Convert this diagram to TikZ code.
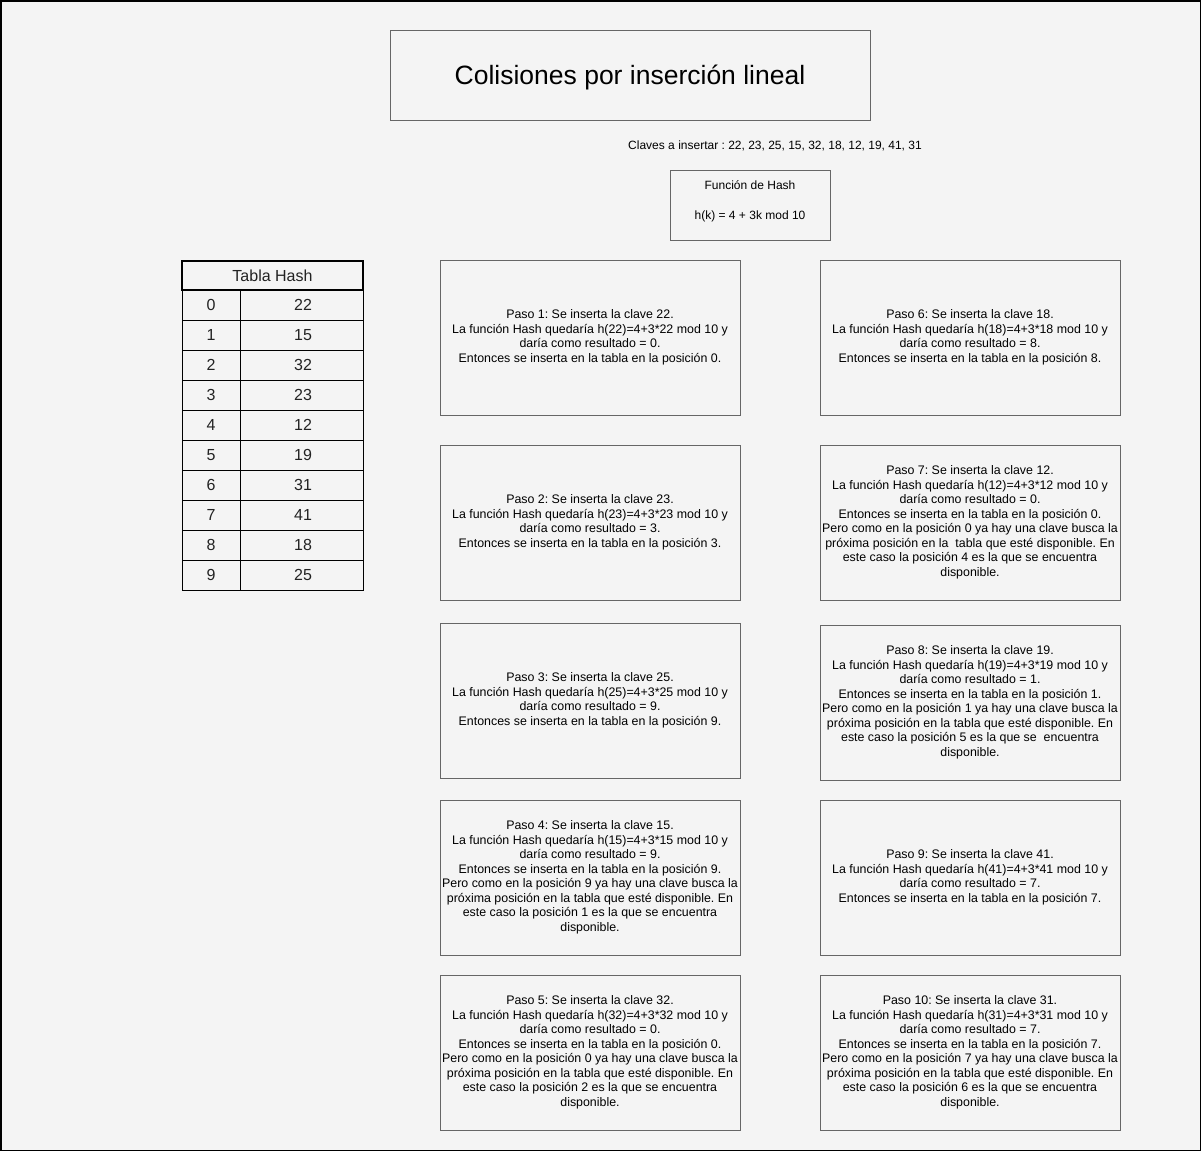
\documentclass[tikz,border=0pt]{standalone}
\usepackage{fontspec}
\setmainfont{Liberation Sans}
\definecolor{bg}{HTML}{F4F4F4}
\definecolor{boxline}{HTML}{666666}
\definecolor{tabtext}{HTML}{222222}
\frenchspacing
\begin{document}
\begin{tikzpicture}[x=1pt,y=-1pt,
  box/.style={draw=boxline,line width=0.9pt,inner sep=0pt},
  stepbox/.style={box,minimum width=300pt,minimum height=155pt,align=center,font=\fontsize{12.4}{14.5}\selectfont},
  cell/.style={draw=black,line width=0.9pt,inner sep=0pt,text=tabtext,font=\fontsize{16}{19}\selectfont}]
\useasboundingbox (0,0) rectangle (1201,1151);
\draw[fill=bg,draw=black,line width=1.5pt] (0.75,0.75) rectangle (1200.25,1150.25);
% title
\node[box,minimum width=480pt,minimum height=90pt] (title) at (630,75) {};
\node[inner sep=0pt,font=\fontsize{26.5}{30}\selectfont] (titletext) at (630,78) {\strut Colisiones por inserción lineal};
\node[inner sep=0pt,font=\fontsize{12}{14.4}\selectfont] (claves) at (775,146) {Claves a insertar : 22, 23, 25, 15, 32, 18, 12, 19, 41, 31};
\node[box,minimum width=160pt,minimum height=70pt] (hash) at (750,205) {};
\node[inner sep=0pt,align=center,font=\fontsize{12}{15}\selectfont] (hashtext) at (750,201) {Función de Hash\\[15pt]h(k) = 4 + 3k mod 10};
% table
\node[cell,line width=2pt,minimum width=181pt,minimum height=29pt] (th) at (272.5,275.5) {Tabla Hash};
\foreach \i/\v in {0/22,1/15,2/32,3/23,4/12,5/19,6/31,7/41,8/18,9/25}{
  \node[cell,minimum width=58pt,minimum height=30pt] (k\i) at (211,305+30*\i) {\i};
  \node[cell,minimum width=123pt,minimum height=30pt] (v\i) at (301.5,305+30*\i) {\hspace*{3pt}\v};
}
% steps left
\node[stepbox] (p1) at (590,337.5) {Paso 1: Se inserta la clave 22.\\La función Hash quedaría h(22)=4+3*22 mod 10 y\\daría como resultado = 0.\\Entonces se inserta en la tabla en la posición 0.};
\node[stepbox] (p2) at (590,522.5) {Paso 2: Se inserta la clave 23.\\La función Hash quedaría h(23)=4+3*23 mod 10 y\\daría como resultado = 3.\\Entonces se inserta en la tabla en la posición 3.};
\node[stepbox] (p3) at (590,700.5) {Paso 3: Se inserta la clave 25.\\La función Hash quedaría h(25)=4+3*25 mod 10 y\\daría como resultado = 9.\\Entonces se inserta en la tabla en la posición 9.};
\node[stepbox] (p4) at (590,877.5) {Paso 4: Se inserta la clave 15.\\La función Hash quedaría h(15)=4+3*15 mod 10 y\\daría como resultado = 9.\\Entonces se inserta en la tabla en la posición 9.\\Pero como en la posición 9 ya hay una clave busca la\\próxima posición en la tabla que esté disponible. En\\este caso la posición 1 es la que se encuentra\\disponible.};
\node[stepbox] (p5) at (590,1052.5) {Paso 5: Se inserta la clave 32.\\La función Hash quedaría h(32)=4+3*32 mod 10 y\\daría como resultado = 0.\\Entonces se inserta en la tabla en la posición 0.\\Pero como en la posición 0 ya hay una clave busca la\\próxima posición en la tabla que esté disponible. En\\este caso la posición 2 es la que se encuentra\\disponible.};
% steps right
\node[stepbox] (p6) at (970,337.5) {Paso 6: Se inserta la clave 18.\\La función Hash quedaría h(18)=4+3*18 mod 10 y\\daría como resultado = 8.\\Entonces se inserta en la tabla en la posición 8.};
\node[stepbox] (p7) at (970,522.5) {Paso 7: Se inserta la clave 12.\\La función Hash quedaría h(12)=4+3*12 mod 10 y\\daría como resultado = 0.\\Entonces se inserta en la tabla en la posición 0.\\Pero como en la posición 0 ya hay una clave busca la\\próxima posición en la\ \ tabla que esté disponible. En\\este caso la posición 4 es la que se encuentra\\disponible.};
\node[stepbox] (p8) at (970,702.5) {Paso 8: Se inserta la clave 19.\\La función Hash quedaría h(19)=4+3*19 mod 10 y\\daría como resultado = 1.\\Entonces se inserta en la tabla en la posición 1.\\Pero como en la posición 1 ya hay una clave busca la\\próxima posición en la tabla que esté disponible. En\\este caso la posición 5 es la que se\ \ encuentra\\disponible.};
\node[stepbox] (p9) at (970,877.5) {Paso 9: Se inserta la clave 41.\\La función Hash quedaría h(41)=4+3*41 mod 10 y\\daría como resultado = 7.\\Entonces se inserta en la tabla en la posición 7.};
\node[stepbox] (p10) at (970,1052.5) {Paso 10: Se inserta la clave 31.\\La función Hash quedaría h(31)=4+3*31 mod 10 y\\daría como resultado = 7.\\Entonces se inserta en la tabla en la posición 7.\\Pero como en la posición 7 ya hay una clave busca la\\próxima posición en la tabla que esté disponible. En\\este caso la posición 6 es la que se encuentra\\disponible.};
\end{tikzpicture}
\end{document}
